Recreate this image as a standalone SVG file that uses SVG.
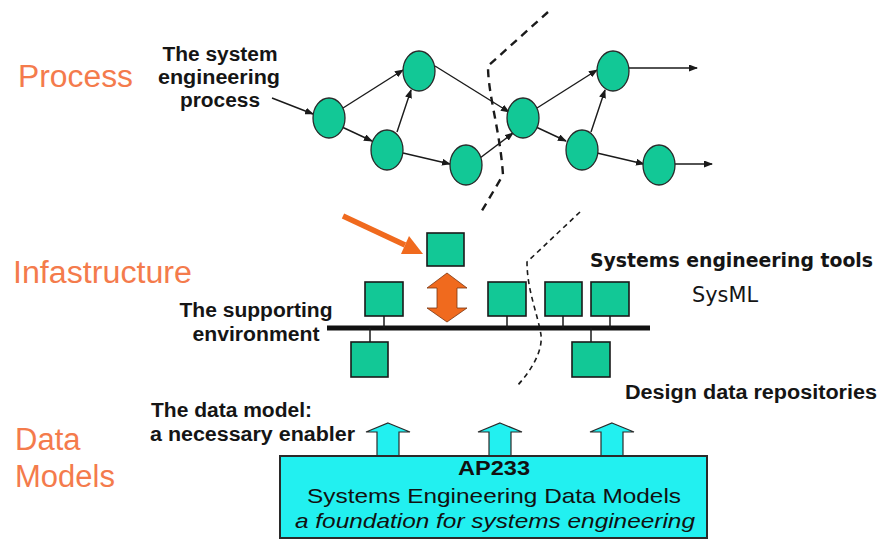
<svg xmlns="http://www.w3.org/2000/svg" width="881" height="544" viewBox="0 0 881 544">
<style>
.lbl{font-family:"Liberation Sans",Arial,sans-serif;font-size:31px;fill:#F47B4C}
.b{font-family:"Liberation Sans",Arial,sans-serif;font-size:20px;font-weight:bold;fill:#151515}
.v{font-family:"DejaVu Sans",Verdana,sans-serif;fill:#151515}
.box{font-family:"Liberation Sans",Arial,sans-serif;font-size:21px;fill:#111}
.node{fill:#12C896;stroke:#2a2a2a;stroke-width:1.3}
.sq{fill:#12C896;stroke:#1a1a1a;stroke-width:1.6}
.edge{stroke:#1a1a1a;stroke-width:1.4;fill:none;marker-end:url(#ah)}
.link{stroke:#1a1a1a;stroke-width:1.5}
.cyan{fill:#22F0F0;stroke:#2a2a2a;stroke-width:1.2}
</style>
<defs>
<marker id="ah" markerWidth="9" markerHeight="7" refX="8" refY="3.5" orient="auto" markerUnits="userSpaceOnUse">
<path d="M0,0 L9,3.5 L0,7 z" fill="#1a1a1a"/>
</marker>
</defs>
<rect width="881" height="544" fill="#fff"/>

<!-- layer labels -->
<g id="labels">
<text class="lbl" x="18" y="87" textLength="115" lengthAdjust="spacingAndGlyphs">Process</text>
<text class="lbl" x="13" y="283" textLength="179" lengthAdjust="spacingAndGlyphs">Infastructure</text>
<text class="lbl" x="15" y="450">Data</text>
<text class="lbl" x="15" y="487">Models</text>
</g>

<g id="annotations">
<text class="b" x="220" y="61" text-anchor="middle" textLength="115" lengthAdjust="spacingAndGlyphs">The system</text>
<text class="b" x="219" y="84" text-anchor="middle" textLength="122" lengthAdjust="spacingAndGlyphs">engineering</text>
<text class="b" x="220" y="107" text-anchor="middle" textLength="80" lengthAdjust="spacingAndGlyphs">process</text>
<text class="b" x="256" y="317" text-anchor="middle" textLength="153" lengthAdjust="spacingAndGlyphs">The supporting</text>
<text class="b" x="256" y="341" text-anchor="middle" textLength="127" lengthAdjust="spacingAndGlyphs">environment</text>
<text class="v" x="590" y="267" font-size="19" font-weight="bold" textLength="283" lengthAdjust="spacingAndGlyphs">Systems engineering tools</text>
<text class="v" x="692" y="302" font-size="21" textLength="66" lengthAdjust="spacingAndGlyphs">SysML</text>
<text class="b" x="625" y="399" textLength="252" lengthAdjust="spacingAndGlyphs">Design data repositories</text>
<text class="b" x="151" y="417" textLength="161" lengthAdjust="spacingAndGlyphs">The data model:</text>
<text class="b" x="150" y="441" textLength="205" lengthAdjust="spacingAndGlyphs">a necessary enabler</text>
</g>

<!-- dashed boundaries -->
<g id="boundaries" fill="none" stroke="#1a1a1a">
<path d="M548,12 L488,66 C488,95 500,130 503,175 L480,214" stroke-width="2.4" stroke-dasharray="8,6"/>
<path d="M580,212 L527,262 C527,290 538,315 541,335 C543,352 530,372 517,386" stroke-width="1.6" stroke-dasharray="5,4"/>
</g>

<!-- connectors -->
<g id="connectors">
<line class="edge" x1="272" y1="98" x2="313" y2="114"/>
<line class="edge" x1="343" y1="108" x2="403" y2="70"/>
<line class="edge" x1="342" y1="127" x2="372" y2="141"/>
<line class="edge" x1="397" y1="132" x2="411" y2="90"/>
<line class="edge" x1="403" y1="153" x2="450" y2="164"/>
<line class="edge" x1="435" y1="66" x2="509" y2="112"/>
<line class="edge" x1="480" y1="158" x2="513" y2="133"/>
<line class="edge" x1="537" y1="108" x2="597" y2="70"/>
<line class="edge" x1="536" y1="127" x2="566" y2="141"/>
<line class="edge" x1="591" y1="132" x2="605" y2="90"/>
<line class="edge" x1="597" y1="153" x2="644" y2="164"/>
<line class="edge" x1="629" y1="68" x2="697" y2="68"/>
<line class="edge" x1="675" y1="164" x2="712" y2="164"/>
<!-- bus -->
<line x1="327" y1="328" x2="650" y2="328" stroke="#111" stroke-width="5"/>
<line class="link" x1="384" y1="316" x2="384" y2="328"/>
<line class="link" x1="507" y1="316" x2="507" y2="328"/>
<line class="link" x1="563" y1="316" x2="563" y2="328"/>
<line class="link" x1="610" y1="316" x2="610" y2="328"/>
<line class="link" x1="370" y1="328" x2="370" y2="342"/>
<line class="link" x1="591" y1="328" x2="591" y2="342"/>
<!-- orange arrows -->
<path d="M343,216 L405,245" stroke="#F06A1E" stroke-width="5.5" fill="none"/>
<path d="M423,254 L401,254 L409,236 z" fill="#F06A1E"/>
<path d="M447,273 L467,288 L457,288 L457,308 L467,308 L447,322 L427,308 L437,308 L437,288 L427,288 z" fill="#F06A1E" stroke="#7a3510" stroke-width="0.8"/>
<!-- cyan arrows -->
<path class="cyan" d="M388,423 L410,432 L399,432 L399,456 L377,456 L377,432 L366,432 z"/>
<path class="cyan" d="M500,423 L522,432 L511,432 L511,456 L489,456 L489,432 L478,432 z"/>
<path class="cyan" d="M612,423 L634,432 L623,432 L623,456 L601,456 L601,432 L590,432 z"/>
</g>

<!-- process nodes -->
<g id="p1"><ellipse class="node" cx="329" cy="118" rx="16" ry="20"/></g>
<g id="p2"><ellipse class="node" cx="419" cy="71" rx="16" ry="20"/></g>
<g id="p3"><ellipse class="node" cx="387" cy="150" rx="16" ry="20"/></g>
<g id="p4"><ellipse class="node" cx="466" cy="165" rx="16" ry="20"/></g>
<g id="p5"><ellipse class="node" cx="523" cy="118" rx="16" ry="20"/></g>
<g id="p6"><ellipse class="node" cx="613" cy="71" rx="16" ry="20"/></g>
<g id="p7"><ellipse class="node" cx="582" cy="150" rx="16" ry="20"/></g>
<g id="p8"><ellipse class="node" cx="659" cy="165" rx="16" ry="20"/></g>

<!-- infrastructure tools -->
<g id="t0"><rect class="sq" x="427" y="233" width="37" height="33"/></g>
<g id="t1"><rect class="sq" x="365" y="282" width="38" height="34"/></g>
<g id="t2"><rect class="sq" x="488" y="282" width="38" height="34"/></g>
<g id="t3"><rect class="sq" x="545" y="282" width="37" height="34"/></g>
<g id="t4"><rect class="sq" x="591" y="282" width="38" height="34"/></g>
<g id="r1"><rect class="sq" x="351" y="342" width="37" height="35"/></g>
<g id="r2"><rect class="sq" x="572" y="342" width="38" height="35"/></g>

<!-- data model box -->
<g id="ap233">
<rect x="280" y="456" width="427" height="82" fill="#22F0F0" stroke="#2a2a2a" stroke-width="2"/>
<text class="box" x="494" y="475" text-anchor="middle" font-weight="bold" textLength="72" lengthAdjust="spacingAndGlyphs">AP233</text>
<text class="box" x="494" y="503" text-anchor="middle" textLength="374" lengthAdjust="spacingAndGlyphs">Systems Engineering Data Models</text>
<text class="box" x="495" y="528" text-anchor="middle" font-style="italic" textLength="400" lengthAdjust="spacingAndGlyphs">a foundation for systems engineering</text>
</g>
</svg>
